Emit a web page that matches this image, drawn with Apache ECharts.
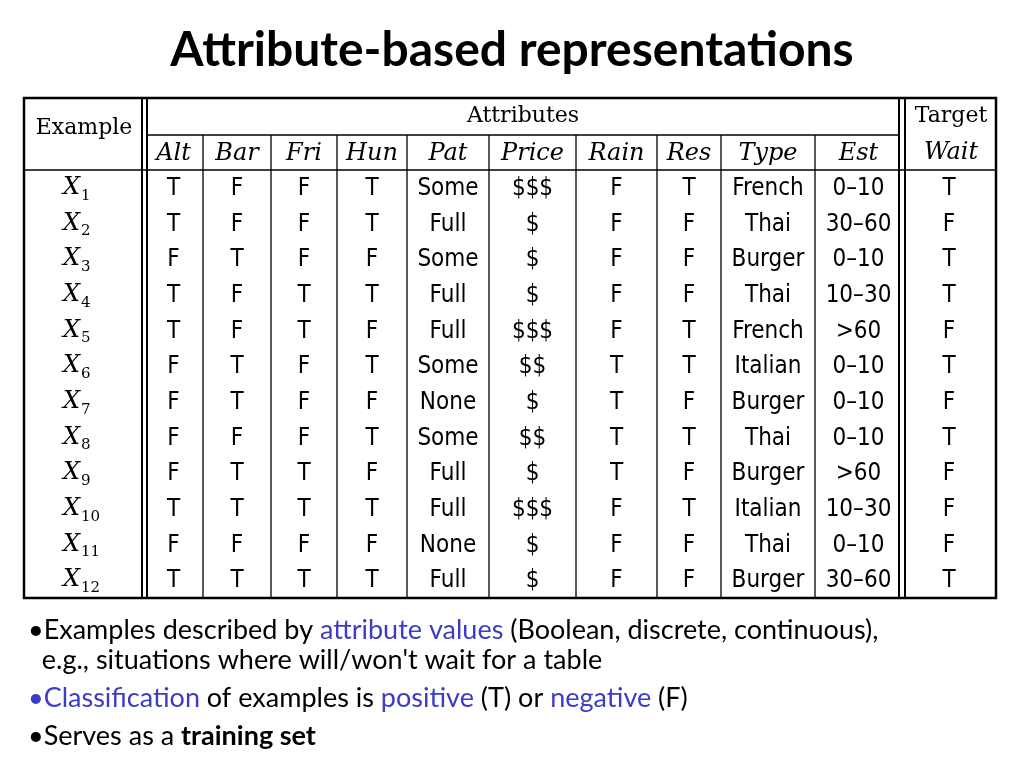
<!DOCTYPE html>
<html><head><meta charset="utf-8">
<script src="https://cdn.jsdelivr.net/npm/echarts@6/dist/echarts.min.js"></script>
<style>html,body{margin:0;background:#fff}#c{width:1024px;height:768px}</style>
</head><body><div id="c"></div>
<script>
const headers = ['Alt','Bar','Fri','Hun','Pat','Price','Rain','Res','Type','Est']
const alt   = ['T','T','F','T','T','F','F','F','F','T','F','T']
const bar   = ['F','F','T','F','F','T','T','F','T','T','F','T']
const fri   = ['F','F','F','T','T','F','F','F','T','T','F','T']
const hun   = ['T','T','F','T','F','T','F','T','F','T','F','T']
const pat   = ['Some','Full','Some','Full','Full','Some','None','Some','Full','Full','None','Full']
const price = ['$$$','$','$','$','$$$','$$','$','$$','$','$$$','$','$']
const rain  = ['F','F','F','F','F','T','T','T','T','F','F','F']
const res   = ['T','F','F','F','T','T','F','T','F','T','F','F']
const type  = ['French','Thai','Burger','Thai','French','Italian','Burger','Thai','Burger','Italian','Thai','Burger']
const est   = ['0–10','30–60','0–10','10–30','>60','0–10','0–10','0–10','>60','10–30','0–10','30–60']
const wait  = ['T','F','T','T','F','T','F','T','F','F','F','T']
const columns = [alt, bar, fri, hun, pat, price, rain, res, type, est]

// layout (pixels inside the table)
const colEdges = [0, 120, 179, 247, 313, 383, 465, 552, 633, 697, 791, 878, 972]
const hdr = [0, 37, 72]
const rowH = (500 - 72) / 12
const rowTop = r => 72 + r * rowH

const cells = []
alt.forEach((_, r) => {
  cells.push([0, r, 'X', String(r + 1)])
  columns.forEach((col, c) => cells.push([c + 1, r, col[r]]))
  cells.push([11, r, wait[r]])
})
headers.forEach((h, c) => cells.push([c + 1, -1, h]))

const chart = echarts.init(document.getElementById('c'))
const valFont = '24px "DejaVu Sans Condensed", "DejaVu Sans"'
const hdrFont = 'italic 24px "DejaVu Serif"'
const romFont = '22px "DejaVu Serif"'

function cellItem(params, api) {
  const c = api.value(0), r = api.value(1)
  const d = cells[params.dataIndex]
  const x0 = api.coord([colEdges[c], 0])[0], x1 = api.coord([colEdges[c + 1], 0])[0]
  const yTop = r < 0 ? hdr[1] : rowTop(r), yBot = r < 0 ? hdr[2] : rowTop(r) + rowH
  const cx = (x0 + x1) / 2, cy = (api.coord([0, yTop])[1] + api.coord([0, yBot])[1]) / 2
  if (c === 0) {
    return { type: 'group', children: [
      { type: 'text', style: { text: 'X', x: cx - 4, y: cy, align: 'right', verticalAlign: 'middle', font: 'italic 24px "DejaVu Serif"', fill: '#000' } },
      { type: 'text', style: { text: d[3], x: cx - 3, y: cy + 8, align: 'left', verticalAlign: 'middle', font: '15px "DejaVu Serif"', fill: '#000' } }
    ] }
  }
  return { type: 'text', style: { text: d[2], x: cx, y: cy + 1, align: 'center', verticalAlign: 'middle',
    font: r < 0 ? hdrFont : valFont, fill: '#000' } }
}

function lineItem(params, api) {
  const P = (x, y) => api.coord([x, y])
  const L = (a, b, w) => ({ type: 'line', shape: { x1: a[0], y1: a[1], x2: b[0], y2: b[1] }, style: { stroke: '#000', lineWidth: w || 1.3 } })
  const kids = [
    { type: 'rect', shape: { x: P(0, 0)[0], y: P(0, 0)[1], width: P(972, 0)[0] - P(0, 0)[0], height: P(0, 500)[1] - P(0, 0)[1] }, style: { fill: 'none', stroke: '#000', lineWidth: 2.5 } },
    L(P(118, 0), P(118, 500), 2), L(P(123, 0), P(123, 500), 2),
    L(P(875, 0), P(875, 500), 2), L(P(881, 0), P(881, 500), 2),
    L(P(0, 72), P(972, 72), 1.5),
    L(P(123, 37), P(875, 37), 1.3)
  ]
  for (let i = 2; i < colEdges.length - 2; i++) kids.push(L(P(colEdges[i], 37), P(colEdges[i], 500)))
  const hp = (a, b) => (P(0, a)[1] + P(0, b)[1]) / 2
  kids.push({ type: 'text', style: { text: 'Example', x: P(60, 0)[0], y: hp(0, 60), align: 'center', verticalAlign: 'middle', font: romFont, fill: '#000' } })
  kids.push({ type: 'text', style: { text: 'Attributes', x: P(499, 0)[0], y: hp(0, 37), align: 'center', verticalAlign: 'middle', font: romFont, fill: '#000' } })
  kids.push({ type: 'text', style: { text: 'Target', x: P(927, 0)[0], y: hp(0, 37), align: 'center', verticalAlign: 'middle', font: romFont, fill: '#000' } })
  kids.push({ type: 'text', style: { text: 'Wait', x: P(927, 0)[0], y: hp(37, 72), align: 'center', verticalAlign: 'middle', font: hdrFont, fill: '#000' } })
  return { type: 'group', children: kids }
}

const blue = '#3c3cc8'
const bf = '27px Lato'
const rich = { b: { fill: blue, font: bf }, k: { font: 'bold 27px Lato', fill: '#000' } }
const bullet = (text, top) => ({ type: 'text', left: 28, top, style: { text, font: bf, fill: '#000', rich } })
const option = {
  backgroundColor: '#fff',
  animation: false,
  title: { text: 'Attribute-based representations', left: 'center', top: 22,
    textStyle: { fontFamily: 'Lato', fontWeight: 'bold', fontSize: 48, color: '#000' } },
  grid: { left: 24, right: 28, top: 98, bottom: 170 },
  xAxis: { type: 'value', min: 0, max: 972, show: false },
  yAxis: { type: 'value', min: 0, max: 500, inverse: true, show: false },
  series: [
    { type: 'custom', renderItem: lineItem, data: [[0, 0]], silent: true },
    { type: 'custom', renderItem: cellItem, data: cells.map(d => [d[0], d[1]]), silent: true }
  ],
  graphic: [
    bullet('•Examples described by {b|attribute values} (Boolean, discrete, continuous),', 617),
    bullet('  e.g., situations where will/won\'t wait for a table', 647),
    bullet('{b|•Classification} of examples is {b|positive} (T) or {b|negative} (F)', 685),
    bullet('•Serves as a {k|training set}', 723)
  ]
}
chart.setOption(option)
</script></body></html>
